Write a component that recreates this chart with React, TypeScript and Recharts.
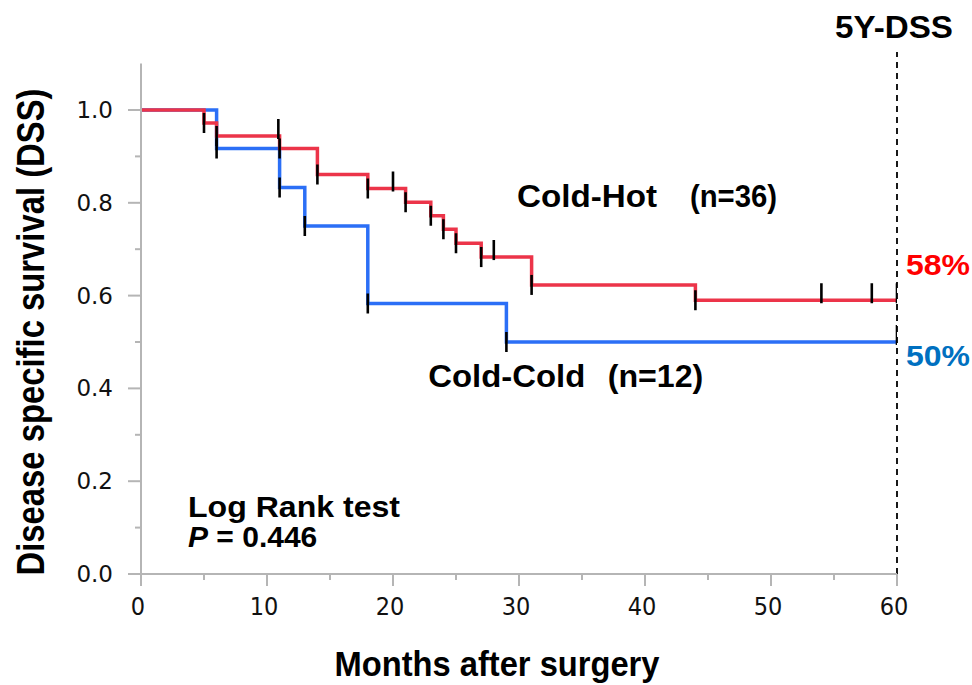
import React from 'react';
import { ComposedChart, Line, Scatter, XAxis, YAxis, ReferenceLine } from 'recharts';

// Cold-Hot (n=36) Kaplan-Meier steps
const coldHotTimes = [0, 5, 6, 11, 14, 18, 21, 23, 24, 25, 27, 31, 44, 60];
const coldHotSurv = [1.0, 0.972, 0.944, 0.917, 0.861, 0.831, 0.801, 0.772, 0.743, 0.713, 0.683, 0.623, 0.59, 0.59];
const coldHotCensor = [5, 6, 10.9, 11, 14, 18, 20, 21, 23, 24, 25, 27, 28, 31, 44, 54, 58, 60];

// Cold-Cold (n=12) Kaplan-Meier steps
const coldColdTimes = [0, 6, 11, 13, 18, 29, 60];
const coldColdSurv = [1.0, 0.917, 0.833, 0.75, 0.583, 0.5, 0.5];
const coldColdCensor = [6, 11, 13, 18, 29, 60];

const xTicks = [0, 5, 10, 15, 20, 25, 30, 35, 40, 45, 50, 55, 60];
const yTicks = [0, 0.1, 0.2, 0.3, 0.4, 0.5, 0.6, 0.7, 0.8, 0.9, 1.0];
const fiveYear = 60;

const RED = '#EC3449';
const BLUE = '#2B6FF6';
const AXIS = '#b5b5b5';

const buildLine = (times: number[], surv: number[]) => times.map((t, i) => ({ t, s: surv[i] }));

const buildCensor = (times: number[], surv: number[], censor: number[]) =>
  censor.map((c) => {
    let idx = 0;
    for (let i = 0; i < times.length; i++) if (times[i] <= c) idx = i;
    const drop = times[idx] === c && idx > 0 && surv[idx] !== surv[idx - 1];
    return { t: c, s: surv[idx], drop };
  });

const hotLine = buildLine(coldHotTimes, coldHotSurv);
const coldLine = buildLine(coldColdTimes, coldColdSurv);
const hotCensor = buildCensor(coldHotTimes, coldHotSurv, coldHotCensor);
const coldCensor = buildCensor(coldColdTimes, coldColdSurv, coldColdCensor);

const CensorMark = (props: any) => {
  const { cx, cy, payload } = props;
  if (cx == null || cy == null) return null;
  const off = payload && payload.drop ? 0 : -7;
  return <line x1={cx} x2={cx} y1={cy - 10 + off} y2={cy + 10 + off} stroke="#000" strokeWidth={2.6} />;
};

const YTick = (props: any) => {
  const { x, y, payload } = props;
  const v = payload.value as number;
  const major = Math.round(v * 10) % 2 === 0;
  return (
    <g>
      <line x1={x - (major ? 13 : 6)} x2={x} y1={y} y2={y} stroke={AXIS} strokeWidth={2} />
      {major && (
        <text x={x - 28} y={y + 8} textAnchor="end" fontFamily="'DejaVu Sans', Verdana, sans-serif" fontSize={23} fill="#111">
          {v.toFixed(1)}
        </text>
      )}
    </g>
  );
};

const XTick = (props: any) => {
  const { x, y, payload } = props;
  const v = payload.value as number;
  const major = v % 10 === 0;
  return (
    <g>
      <line x1={x} x2={x} y1={y} y2={y + (major ? 12 : 6)} stroke={AXIS} strokeWidth={2} />
      {major && (
        <text
          x={x - 3}
          y={y + 41}
          textAnchor="middle"
          fontFamily="'DejaVu Sans Condensed', 'Liberation Sans Narrow', 'DejaVu Sans', sans-serif"
          style={{ fontStretch: 'condensed' }}
          fontSize={25}
          fill="#111"
        >
          {v}
        </text>
      )}
    </g>
  );
};

const BOLD = "'Liberation Sans', Arial, Helvetica, sans-serif";

export default function App() {
  return (
    <div style={{ position: 'absolute', left: 0, top: 0, width: 972, height: 685, background: '#fff' }}>
      <ComposedChart width={972} height={685} margin={{ top: 63.6, right: 75, bottom: 81, left: 81 }}>
        <XAxis
          dataKey="t"
          type="number"
          domain={[0, 60]}
          ticks={xTicks}
          interval={0}
          height={30}
          axisLine={{ stroke: AXIS, strokeWidth: 2 }}
          tickLine={false}
          tickSize={0}
          tickMargin={0}
          tick={<XTick />}
          allowDataOverflow
        />
        <YAxis
          type="number"
          domain={[0, 1.1]}
          ticks={yTicks}
          interval={0}
          width={60}
          axisLine={{ stroke: AXIS, strokeWidth: 2 }}
          tickLine={false}
          tickSize={0}
          tickMargin={0}
          tick={<YTick />}
          allowDataOverflow
        />
        <ReferenceLine
          segment={[{ x: fiveYear, y: 0 }, { x: fiveYear, y: 1.125 }]}
          stroke="#000"
          strokeWidth={1.8}
          strokeDasharray="6 5"
          ifOverflow="visible"
        />
        <Line data={coldLine} dataKey="s" type="stepAfter" stroke={BLUE} strokeWidth={3.5} dot={false} isAnimationActive={false} />
        <Line data={hotLine} dataKey="s" type="stepAfter" stroke={RED} strokeWidth={3.5} dot={false} isAnimationActive={false} />
        <Scatter data={coldCensor} dataKey="s" shape={<CensorMark />} isAnimationActive={false} />
        <Scatter data={hotCensor} dataKey="s" shape={<CensorMark />} isAnimationActive={false} />
      </ComposedChart>
      <svg width={972} height={685} style={{ position: 'absolute', left: 0, top: 0, pointerEvents: 'none' }}>
        <g fontFamily={BOLD} fontWeight="bold" fill="#000">
          <text x={894} y={37.5} textAnchor="middle" fontSize={31} textLength={118} lengthAdjust="spacingAndGlyphs">5Y-DSS</text>
          <text transform="translate(44,332) rotate(-90)" textAnchor="middle" fontSize={38} textLength={487} lengthAdjust="spacingAndGlyphs">
            Disease specific survival (DSS)
          </text>
          <text x={497} y={676} textAnchor="middle" fontSize={35} textLength={325} lengthAdjust="spacingAndGlyphs">Months after surgery</text>
          <text y={207.3} fontSize={31}>
            <tspan x={517} textLength={140} lengthAdjust="spacingAndGlyphs">Cold-Hot</tspan>
            <tspan x={690} textLength={87} lengthAdjust="spacingAndGlyphs">(n=36)</tspan>
          </text>
          <text y={387.3} fontSize={31}>
            <tspan x={428.3} textLength={157} lengthAdjust="spacingAndGlyphs">Cold-Cold</tspan>
            <tspan x={607.7} textLength={95.6} lengthAdjust="spacingAndGlyphs">(n=12)</tspan>
          </text>
          <text x={906} y={275} fontSize={29} fill="#FF0000" textLength={64} lengthAdjust="spacingAndGlyphs">58%</text>
          <text x={906} y={366} fontSize={29} fill="#0070C0" textLength={64} lengthAdjust="spacingAndGlyphs">50%</text>
          <text x={188} y={516.7} fontSize={30} textLength={212} lengthAdjust="spacingAndGlyphs">Log Rank test</text>
          <text x={188} y={546.7} fontSize={30}>
            <tspan fontStyle="italic">P</tspan> = 0.446
          </text>
        </g>
      </svg>
    </div>
  );
}
